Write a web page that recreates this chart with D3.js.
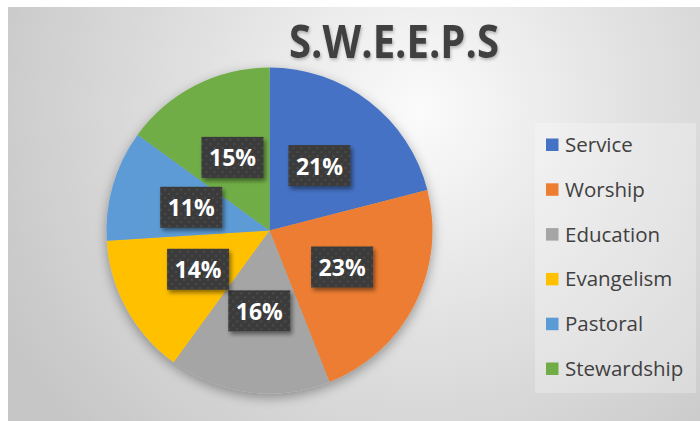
<!DOCTYPE html>
<html>
<head>
<meta charset="utf-8">
<script src="https://cdn.jsdelivr.net/npm/d3@7"></script>
<style>
html,body{margin:0;padding:0;background:#fff;}
svg{display:block;}
</style>
</head>
<body>
<div id="chart"></div>
<script>
const categories = ["Service","Worship","Education","Evangelism","Pastoral","Stewardship"];
const values = [21,23,16,14,11,15];
const labels = ["21%","23%","16%","14%","11%","15%"];
const colors = ["#4472C4","#ED7D31","#A5A5A5","#FFC000","#5B9BD5","#70AD47"];
const title = "S.W.E.E.P.S";

const W = 700, H = 421;
const svg = d3.select("#chart").append("svg").attr("width", W).attr("height", H);
const defs = svg.append("defs");

const bg = defs.append("radialGradient").attr("id","bg")
  .attr("gradientUnits","userSpaceOnUse").attr("cx",420).attr("cy",110).attr("r",470);
bg.append("stop").attr("offset","0").attr("stop-color","#fbfbfb");
bg.append("stop").attr("offset","0.45").attr("stop-color","#e2e2e2");
bg.append("stop").attr("offset","1").attr("stop-color","#c6c6c6");

const sh = defs.append("filter").attr("id","shadow").attr("x","-20%").attr("y","-20%").attr("width","140%").attr("height","140%");
sh.append("feDropShadow").attr("dx",0).attr("dy",4).attr("stdDeviation",6).attr("flood-color","#000").attr("flood-opacity",0.35);
const sh2 = defs.append("filter").attr("id","boxshadow").attr("x","-30%").attr("y","-30%").attr("width","160%").attr("height","160%");
sh2.append("feDropShadow").attr("dx",2).attr("dy",3).attr("stdDeviation",2).attr("flood-color","#000").attr("flood-opacity",0.45);
const sh3 = defs.append("filter").attr("id","titleshadow");
sh3.append("feDropShadow").attr("dx",1).attr("dy",2).attr("stdDeviation",1.5).attr("flood-color","#000").attr("flood-opacity",0.25);

const pat = defs.append("pattern").attr("id","dots").attr("patternUnits","userSpaceOnUse").attr("width",8).attr("height",8);
pat.append("rect").attr("width",8).attr("height",8).attr("fill","#3a3a3a");
pat.append("circle").attr("cx",2).attr("cy",2).attr("r",0.9).attr("fill","#555");
pat.append("circle").attr("cx",6).attr("cy",6).attr("r",0.9).attr("fill","#555");

// background panel
svg.append("rect").attr("x",8).attr("y",7).attr("width",W-8).attr("height",H-7).attr("fill","url(#bg)");

// title
svg.append("text").attr("x",394).attr("y",57.5).attr("text-anchor","middle")
  .attr("font-family","Open Sans").attr("font-weight","bold").attr("font-size",47)
  .attr("fill","#3f3f3f").attr("textLength",210).attr("lengthAdjust","spacingAndGlyphs")
  .attr("filter","url(#titleshadow)").text(title);

// pie
const cx = 269.5, cy = 230.5, R = 163;
const pie = d3.pie().sort(null).value(d => d)(values);
const arc = d3.arc().innerRadius(0).outerRadius(R);
const g = svg.append("g").attr("transform",`translate(${cx},${cy})`);
g.append("g").attr("filter","url(#shadow)").selectAll("path").data(pie).join("path")
  .attr("d",arc).attr("fill",(d,i)=>colors[i]);

// labels
const lab = g.selectAll("g.lab").data(pie).join("g").attr("class","lab")
  .attr("transform",d=>{const c=arc.centroid(d);return `translate(${c[0]},${c[1]})`;});
lab.append("rect").attr("x",-31).attr("y",-21).attr("width",62).attr("height",41)
  .attr("fill","url(#dots)").attr("filter","url(#boxshadow)");
lab.append("text").attr("text-anchor","middle").attr("y",8.5)
  .attr("font-family","Open Sans").attr("font-weight","bold").attr("font-size",23)
  .attr("fill","#fff").text((d,i)=>labels[i]);

// legend
svg.append("rect").attr("x",535).attr("y",123).attr("width",161).attr("height",270)
  .attr("fill","#ffffff").attr("fill-opacity",0.25);
const leg = svg.append("g").selectAll("g").data(categories).join("g")
  .attr("transform",(d,i)=>`translate(546,${145 + i*44.8})`);
leg.append("rect").attr("x",0).attr("y",-6.5).attr("width",12.5).attr("height",12.5).attr("fill",(d,i)=>colors[i]);
leg.append("text").attr("x",19).attr("y",7).attr("font-family","Open Sans").attr("font-size",20.5)
  .attr("fill","#404040").text(d=>d);
</script>
</body>
</html>
